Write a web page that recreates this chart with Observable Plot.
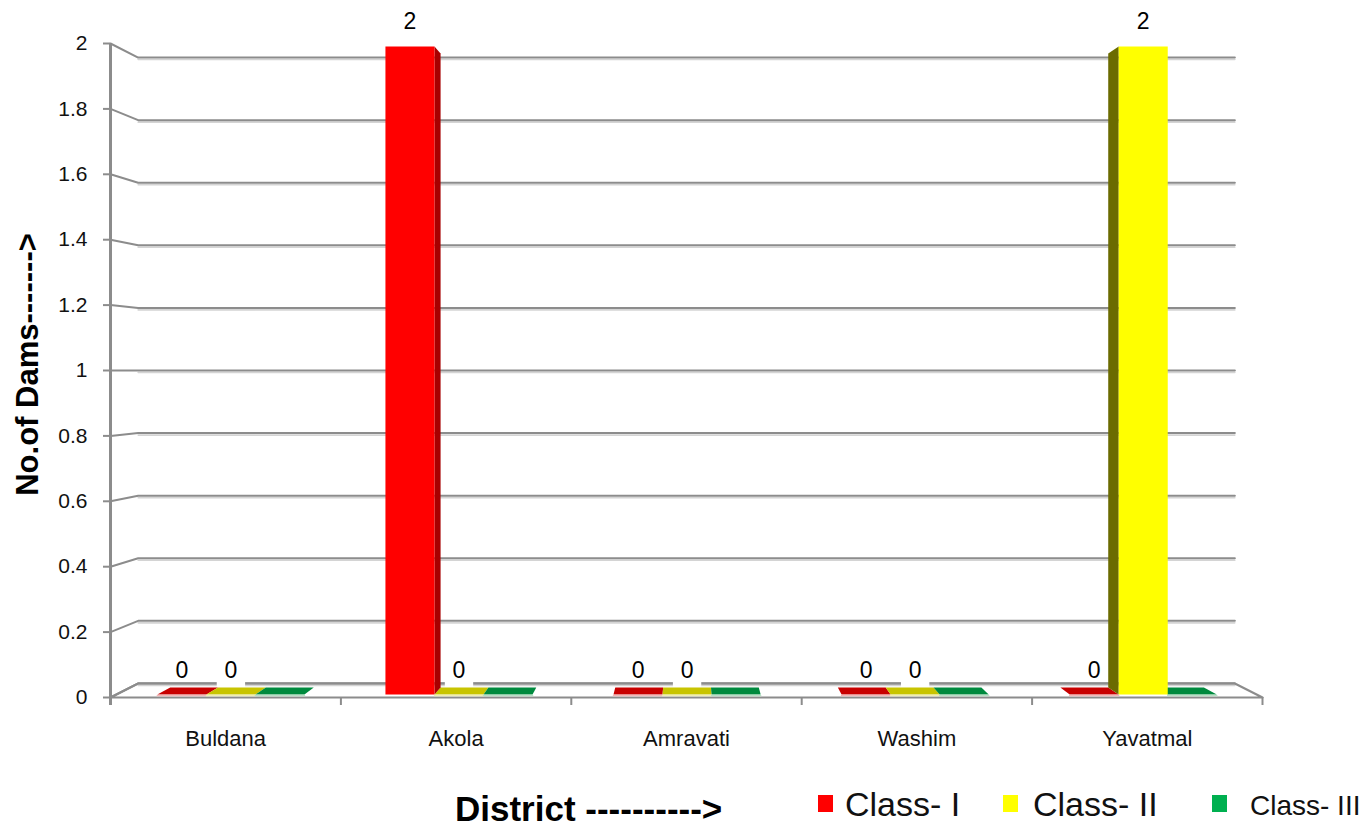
<!DOCTYPE html>
<html>
<head>
<meta charset="utf-8">
<script src="https://cdn.jsdelivr.net/npm/d3@7"></script>
<script src="https://cdn.jsdelivr.net/npm/@observablehq/plot@0.6"></script>
<style>
  html, body { margin: 0; padding: 0; background: #fff; }
  body { width: 1367px; height: 827px; overflow: hidden; font-family: "Liberation Sans", Arial, sans-serif; }
  #chart svg { display: block; }
  #bottom { position: relative; width: 1367px; height: 52px; }
  #bottom .xtitle { position: absolute; left: 455px; top: 16px; font-size: 35px; line-height: 35px; font-weight: bold; color: #000; white-space: nowrap; }
  #bottom .sw { position: absolute; top: 20px; width: 15px; height: 17px; }
  #bottom .lt { position: absolute; top: 12px; font-size: 34px; line-height: 34px; color: #111; white-space: nowrap; }
</style>
</head>
<body>
<div id="chart"></div>
<div id="bottom"></div>
<script>
// ---- data ----
const districts = ["Buldana", "Akola", "Amravati", "Washim", "Yavatmal"];
const classes = ["Class- I", "Class- II", "Class- III"];
const classI = [0, 2, 0, 0, 0];
const classII = [0, 0, 0, 0, 2];
const classIII = [0, 0, 0, 0, 0];
const yTicks = [0, 0.2, 0.4, 0.6, 0.8, 1, 1.2, 1.4, 1.6, 1.8, 2];
const yTitle = "No.of Dams------->";
const xTitle = "District ---------->";

// ---- styling ----
const frontColors = ["#ff0000", "#ffff00", "#00b050"];
const sideColors = ["#a80000", "#6b6b00", "#006a30"];
const topColors = ["#c80000", "#c8c400", "#008a3e"];
const edgeColors = ["#f4b6b6", "#f0eeb0", "#b6e0c4"];
const legendColors = ["#ff0000", "#ffff00", "#00b050"];
const labelled = [true, true, false]; // Class- III carries no value labels

// ---- 3-D frame: depth 0 = front plane, 1 = back wall (in data units) ----
const VP = {u: 2.5, v: 1};
const SHRINK = {x: 0.048, y: 0.043};
const DEPTH = {front: 0.21, back: 0.71};
const GROUP = {start: 0.18, width: 0.215};
const project = (u, v, d) => ({x: u + (VP.u - u) * SHRINK.x * d, y: v + (VP.v - v) * SHRINK.y * d});

const series = [classI, classII, classIII];
const bars = [];
districts.forEach((name, i) => series.forEach((vals, j) => {
  const u0 = i + GROUP.start + j * GROUP.width;
  bars.push({district: name, cls: classes[j], j, value: vals[i], u0, u1: u0 + GROUP.width, uc: u0 + GROUP.width / 2});
}));

const polys = [];
function face(id, fill, corners) {
  corners.forEach(([u, v, d]) => polys.push({id, fill, ...project(u, v, d)}));
}
const F = DEPTH.front, B = DEPTH.back;
// slabs for zero values first, then the standing bars
bars.filter(b => b.value === 0).forEach((b, k) => {
  face("slab" + k, topColors[b.j], [[b.u0, 0, F], [b.u1, 0, F], [b.u1, 0, B], [b.u0, 0, B]]);
});
const slabEdges = [];
bars.filter(b => b.value === 0).forEach((b, k) => {
  [[b.u0, 0, F], [b.u1, 0, F]].forEach(([u, v, d]) => slabEdges.push({id: "e" + k, stroke: edgeColors[b.j], ...project(u, v, d)}));
});
bars.filter(b => b.value > 0).forEach((b, k) => {
  const su = b.uc < VP.u ? b.u1 : b.u0;
  face("side" + k, sideColors[b.j], [[su, 0, F], [su, 0, B], [su, b.value, B], [su, b.value, F]]);
  face("front" + k, frontColors[b.j], [[b.u0, 0, F], [b.u1, 0, F], [b.u1, b.value, F], [b.u0, b.value, F]]);
});

// wall grid lines (front tick -> back wall -> across)
const nCat = districts.length;
const wall = [], wallShadow = [];
yTicks.forEach((t, k) => {
  [[0, t, 0], [0, t, 1], [nCat, t, 1]].forEach(([u, v, d]) => wall.push({id: k, ...project(u, v, d)}));
  [[0, t, 1], [nCat, t, 1]].forEach(([u, v, d]) => wallShadow.push({id: k, ...project(u, v, d)}));
});
const floor = [[0, 0, 0], [0, 0, 1], [nCat, 0, 1], [nCat, 0, 0]].map(([u, v, d]) => project(u, v, d));

const labels = bars.filter(b => labelled[b.j]).map(b => ({...b, ...project(b.uc, b.value, F)}));

const chart = Plot.plot({
  width: 1367,
  height: 775,
  marginLeft: 110,
  marginRight: 105,
  marginTop: 43,
  marginBottom: 78,
  x: {type: "linear", domain: [0, nCat]},
  y: {type: "linear", domain: [0, 2]},
  color: {type: "identity"},
  style: {fontFamily: "Liberation Sans, Arial, sans-serif", background: "#fff", overflow: "visible"},
  marks: [
    Plot.line(wallShadow, {x: "x", y: "y", z: "id", stroke: "#d4d4d4", strokeWidth: 1.6, dy: 2}),
    Plot.line(wall, {x: "x", y: "y", z: "id", stroke: "#8c8c8c", strokeWidth: 2}),
    Plot.line(floor, {x: "x", y: "y", curve: "linear-closed", stroke: "#8c8c8c", strokeWidth: 2.2}),
    Plot.ruleX([0], {stroke: "#8c8c8c", strokeWidth: 3, insetBottom: -8}),
    Plot.axisY(yTicks, {tickSize: 7, tickPadding: 16, tickFormat: d => String(d), stroke: "#8c8c8c", strokeWidth: 2, fontSize: 21, fill: "#111", label: null}),
    Plot.axisX(d3.range(nCat + 1), {tickSize: 8, tickFormat: () => "", stroke: "#8c8c8c", strokeWidth: 2, label: null}),
    Plot.axisX(districts.map((_, i) => i + 0.5), {tickSize: 0, tickPadding: 33, tickFormat: d => districts[Math.floor(d)], fontSize: 22, fill: "#111", label: null}),
    // white boxes behind Class- II value labels
    Plot.dot(labels.filter(b => b.j === 1), {x: "x", y: "y", symbol: "square", r: 16, fill: "#fff", stroke: null, dy: -21}),
    Plot.line(polys, {x: "x", y: "y", z: "id", fill: "fill", stroke: null, curve: "linear-closed"}),
    Plot.line(slabEdges, {x: "x", y: "y", z: "id", stroke: "stroke", strokeWidth: 1.5, dy: 1}),
    Plot.text(labels, {x: "x", y: "y", text: d => String(d.value), lineAnchor: "bottom", dy: -17, fontSize: 23, fill: "#000"}),
    Plot.text([yTitle], {text: d => d, frameAnchor: "left", textAnchor: "middle", rotate: -90, dx: -82, dy: -6, fontSize: 31, fontWeight: "bold", fill: "#000"})
  ]
});
document.getElementById("chart").appendChild(chart);

// ---- bottom: x title and legend ----
const bottom = document.getElementById("bottom");
const xt = document.createElement("div");
xt.className = "xtitle";
xt.textContent = xTitle;
bottom.appendChild(xt);
const swLeft = [818, 1003, 1212];
const txtLeft = [845, 1033, 1250];
const txtSize = [34, 34, 28];
classes.forEach((c, j) => {
  const s = document.createElement("div");
  s.className = "sw";
  s.style.left = swLeft[j] + "px";
  s.style.background = legendColors[j];
  bottom.appendChild(s);
  const t = document.createElement("div");
  t.className = "lt";
  t.style.left = txtLeft[j] + "px";
  t.style.fontSize = txtSize[j] + "px";
  t.style.lineHeight = txtSize[j] + "px";
  t.style.top = (txtSize[j] < 34 ? 17 : 12) + "px";
  t.textContent = c;
  bottom.appendChild(t);
});
</script>
</body>
</html>
